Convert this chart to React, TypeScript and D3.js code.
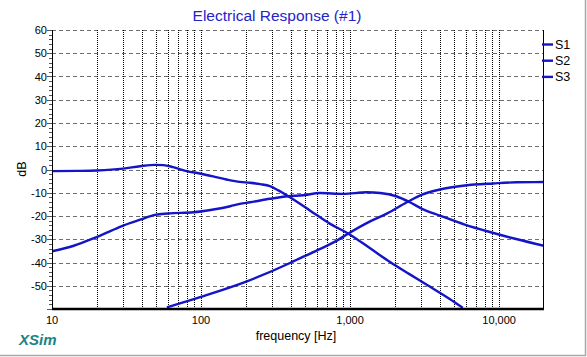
import React from "react";
import * as d3 from "d3";

const TITLE = "Electrical Response (#1)";
const X_LABEL = "frequency [Hz]";
const Y_LABEL = "dB";
const BRAND = "XSim";

const Y_TICKS = [60, 50, 40, 30, 20, 10, 0, -10, -20, -30, -40, -50];
const X_TICKS = [10, 100, 1000, 10000];
const X_TICK_LABELS = ["10", "100", "1,000", "10,000"];
const SERIES_NAMES = ["S1", "S2", "S3"];

const S1_FREQ = [10, 15, 20, 30, 39, 49, 56, 65, 80, 98, 148, 182, 213, 250, 290, 330, 385, 540, 735, 975, 1363, 1853, 2500, 3270, 4660, 5700];
const S1_DB = [-0.7, -0.6, -0.4, 0.4, 1.4, 2.0, 1.9, 1.0, -0.7, -1.7, -4.3, -5.3, -5.7, -6.3, -7.2, -9.0, -11.5, -17.7, -23.4, -27.6, -33.9, -39.8, -45.0, -49.6, -55.7, -59.5];

const S2_FREQ = [10, 14, 18, 24, 30, 39, 49, 60, 89, 121, 157, 182, 213, 290, 385, 484, 626, 901, 1294, 1592, 2040, 2520, 3040, 4000, 5880, 9165, 13000, 20000];
const S2_DB = [-35.2, -32.8, -30.2, -26.8, -24.1, -21.6, -19.5, -18.9, -18.4, -17.2, -15.8, -14.8, -14.1, -12.6, -11.5, -11.1, -10.1, -10.5, -9.8, -10.1, -11.5, -14.1, -16.9, -19.8, -23.7, -27.3, -29.9, -32.8];

const S3_FREQ = [59, 98.5, 203, 395, 439, 600, 815, 975, 1363, 1762, 2405, 3040, 4000, 5880, 9165, 13000, 20000];
const S3_DB = [-59.3, -54.9, -48.1, -40.2, -38.8, -34.8, -30.6, -27.5, -22.3, -19.0, -14.1, -10.8, -8.6, -6.9, -6.0, -5.5, -5.4];

const SERIES = [
  { freq: S1_FREQ, db: S1_DB },
  { freq: S2_FREQ, db: S2_DB },
  { freq: S3_FREQ, db: S3_DB },
];

const W = 587;
const H = 357;
const L = 52;
const R = 544;
const T = 30;
const B = 309;

const FONT = "Arial, 'Liberation Sans', sans-serif";
const BLUE = "#1414c8";

export default function App() {
  const x = d3.scaleLog().domain([10, 20000]).range([L, R]);
  const y = d3.scaleLinear().domain([-60, 60]).range([B, T]);

  const line = d3
    .line<[number, number]>()
    .x((d) => x(d[0]))
    .y((d) => y(d[1]))
    .curve(d3.curveMonotoneX);

  const vGrid: number[] = [];
  for (const dec of [10, 100, 1000, 10000]) {
    for (let k = 1; k <= 9; k++) {
      const v = k * dec;
      if (v > 10 && v < 20000) vGrid.push(v);
    }
  }
  const minorY: number[] = [];
  for (let v = -60; v <= 60; v += 2) minorY.push(v);

  return (
    <svg
      width={W}
      height={H}
      style={{ position: "absolute", left: 0, top: 0, background: "#fff" }}
    >
      <defs>
        <clipPath id="plotclip">
          <rect x={L} y={T} width={R - L} height={B - T} />
        </clipPath>
      </defs>
      <rect x={0} y={0} width={W} height={H} fill="#fff" />

      <text x={277} y={21} textAnchor="middle" fontFamily={FONT} fontSize={15.5} fill="#2424c8">
        {TITLE}
      </text>

      {/* horizontal grid */}
      {Y_TICKS.map((v) => (
        <line
          key={"h" + v}
          x1={L}
          x2={R}
          y1={Math.round(y(v)) + 0.5}
          y2={Math.round(y(v)) + 0.5}
          stroke="#6e6e6e"
          strokeDasharray="4,3"
          strokeWidth={1}
        />
      ))}
      {/* vertical grid */}
      {vGrid.map((v) => (
        <line
          key={"v" + v}
          x1={Math.round(x(v)) + 0.5}
          x2={Math.round(x(v)) + 0.5}
          y1={T}
          y2={B}
          stroke="#000"
          strokeDasharray="1,1"
          strokeWidth={1}
        />
      ))}

      {/* curves */}
      <g clipPath="url(#plotclip)">
        {SERIES.map((s, i) => (
          <path
            key={i}
            d={line(s.freq.map((f, j) => [f, s.db[j]] as [number, number])) || ""}
            fill="none"
            stroke={BLUE}
            strokeWidth={2.4}
          />
        ))}
      </g>

      {/* axes */}
      <line x1={L + 0.5} x2={L + 0.5} y1={T} y2={B} stroke="#000" strokeWidth={1} />
      <line x1={R - 0.5} x2={R - 0.5} y1={T} y2={B + 1} stroke="#000" strokeWidth={1} />
      <line x1={L} x2={R} y1={B} y2={B} stroke="#000" strokeWidth={2.5} />

      {minorY.map((v) => (
        <line
          key={"mt" + v}
          x1={v % 10 === 0 ? L - 5 : L - 3}
          x2={L}
          y1={Math.round(y(v)) + 0.5}
          y2={Math.round(y(v)) + 0.5}
          stroke="#555"
          strokeWidth={1}
        />
      ))}

      {Y_TICKS.map((v) => (
        <text
          key={"yl" + v}
          x={47}
          y={y(v) + 4}
          textAnchor="end"
          fontFamily={FONT}
          fontSize={11}
          fill="#000"
        >
          {v}
        </text>
      ))}

      {X_TICKS.map((v, i) => (
        <text
          key={"xl" + v}
          x={x(v)}
          y={324}
          textAnchor="middle"
          fontFamily={FONT}
          fontSize={11}
          fill="#000"
        >
          {X_TICK_LABELS[i]}
        </text>
      ))}

      <text x={296} y={340} textAnchor="middle" fontFamily={FONT} fontSize={12.5} fill="#000">
        {X_LABEL}
      </text>
      <text
        transform={`translate(26,169) rotate(-90)`}
        textAnchor="middle"
        fontFamily={FONT}
        fontSize={12.5}
        fill="#000"
      >
        {Y_LABEL}
      </text>

      {/* legend */}
      {SERIES_NAMES.map((n, i) => (
        <g key={n}>
          <line x1={542} x2={553} y1={44.5 + i * 16.2} y2={44.5 + i * 16.2} stroke={BLUE} strokeWidth={2.4} />
          <text x={555} y={49 + i * 16.2} fontFamily={FONT} fontSize={12.5} fill="#000">
            {n}
          </text>
        </g>
      ))}

      <text
        x={19}
        y={345}
        fontFamily={FONT}
        fontSize={15}
        fontWeight="bold"
        fontStyle="italic"
        fill="#1a8484"
      >
        {BRAND}
      </text>

      <line x1={0} x2={586} y1={355.5} y2={355.5} stroke="#a8a8a8" strokeWidth={1.5} />
      <line x1={585.5} x2={585.5} y1={0} y2={356} stroke="#a8a8a8" strokeWidth={1.5} />
    </svg>
  );
}
